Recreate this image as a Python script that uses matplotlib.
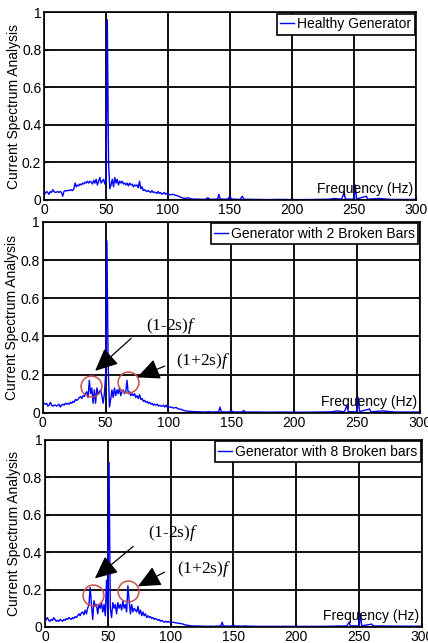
# Current spectrum of healthy vs broken-bar generator
import numpy as np
import matplotlib.pyplot as plt

plt.rcParams['font.family'] = ['Liberation Sans', 'DejaVu Sans']
plt.rcParams['mathtext.fontset'] = 'custom'
plt.rcParams['mathtext.rm'] = 'Liberation Serif'
plt.rcParams['mathtext.it'] = 'Liberation Serif:italic'

# low band 0..100 Hz at 1 Hz steps
freq_low = list(range(0, 101))

healthy_low = [0.03, 0.035, 0.045, 0.04, 0.03, 0.045, 0.04, 0.055, 0.045, 0.04,
               0.042, 0.045, 0.04, 0.045, 0.04, 0.02, 0.045, 0.05, 0.048, 0.05,
               0.052, 0.05, 0.055, 0.05, 0.06, 0.09, 0.07, 0.08, 0.075, 0.085,
               0.08, 0.09, 0.085, 0.095, 0.09, 0.1, 0.09, 0.1, 0.095, 0.085,
               0.105, 0.09, 0.11, 0.08, 0.1, 0.12, 0.09, 0.1, 0.11, 0.085,
               0.1, 0.96, 0.2, 0.06, 0.08, 0.11, 0.07, 0.12, 0.09, 0.11,
               0.08, 0.1, 0.09, 0.1, 0.085, 0.09, 0.08, 0.09, 0.075, 0.09,
               0.08, 0.085, 0.07, 0.08, 0.075, 0.08, 0.065, 0.1, 0.06, 0.07,
               0.05, 0.055, 0.05, 0.045, 0.05, 0.045, 0.04, 0.05, 0.04, 0.042,
               0.04, 0.035, 0.045, 0.035, 0.04, 0.03, 0.035, 0.04, 0.03, 0.035,
               0.03]

bars2_low = [0.04, 0.05, 0.045, 0.05, 0.035, 0.04, 0.055, 0.04, 0.035, 0.04,
             0.04, 0.035, 0.04, 0.045, 0.03, 0.04, 0.045, 0.04, 0.05, 0.045,
             0.05, 0.045, 0.055, 0.05, 0.06, 0.055, 0.07, 0.065, 0.07, 0.08,
             0.085, 0.075, 0.09, 0.085, 0.1, 0.11, 0.08, 0.17, 0.1, 0.13,
             0.05, 0.12, 0.05, 0.13, 0.1, 0.11, 0.12, 0.09, 0.05, 0.1,
             0.2, 0.9, 0.25, 0.03, 0.07, 0.12, 0.08, 0.13, 0.09, 0.12,
             0.1, 0.13, 0.09, 0.11, 0.12, 0.1, 0.11, 0.17, 0.1, 0.11,
             0.09, 0.1, 0.09, 0.1, 0.08, 0.09, 0.075, 0.095, 0.07, 0.075,
             0.06, 0.065, 0.055, 0.06, 0.05, 0.055, 0.045, 0.05, 0.04, 0.045,
             0.04, 0.045, 0.035, 0.04, 0.035, 0.035, 0.04, 0.03, 0.04, 0.03,
             0.03]

bars8_low = [0.03, 0.04, 0.05, 0.035, 0.03, 0.04, 0.035, 0.05, 0.04, 0.03,
             0.035, 0.03, 0.04, 0.035, 0.03, 0.04, 0.035, 0.045, 0.04, 0.05,
             0.045, 0.04, 0.05, 0.045, 0.055, 0.05, 0.06, 0.07, 0.06, 0.075,
             0.08, 0.065, 0.09, 0.07, 0.1, 0.12, 0.21, 0.12, 0.04, 0.14,
             0.11, 0.12, 0.07, 0.12, 0.1, 0.13, 0.08, 0.12, 0.06, 0.25,
             0.05, 0.88, 0.1, 0.05, 0.13, 0.1, 0.12, 0.07, 0.13, 0.1,
             0.12, 0.09, 0.14, 0.1, 0.12, 0.08, 0.22, 0.14, 0.07, 0.12,
             0.08, 0.1, 0.09, 0.08, 0.11, 0.07, 0.09, 0.06, 0.08, 0.06,
             0.07, 0.05, 0.06, 0.05, 0.055, 0.045, 0.05, 0.04, 0.045, 0.04,
             0.035, 0.04, 0.03, 0.035, 0.03, 0.025, 0.03, 0.025, 0.03, 0.025,
             0.025]

# high band 100..300 Hz, sparse
freq_high = [102, 104, 106, 108, 110, 112, 114, 116, 118, 120, 125, 130, 132, 134,
             140, 141, 142, 148, 150, 151, 158, 160, 161, 170, 180, 190, 200,
             210, 220, 230, 234, 240, 242, 243, 250, 251, 252, 260, 261, 270,
             280, 290, 300]

healthy_high = [0.028, 0.03, 0.025, 0.022, 0.015, 0.01, 0.008, 0.012, 0.006, 0.005,
                0.004, 0.003, 0.012, 0.003, 0.005, 0.03, 0.005, 0.004, 0.02, 0.005,
                0.003, 0.02, 0.004, 0.003, 0.002, 0.003, 0.002, 0.002, 0.003, 0.004,
                0.008, 0.004, 0.04, 0.005, 0.004, 0.08, 0.005, 0.02, 0.004, 0.008,
                0.003, 0.003, 0.003]

bars2_high = [0.03, 0.025, 0.028, 0.02, 0.018, 0.012, 0.01, 0.008, 0.007, 0.006,
              0.005, 0.004, 0.006, 0.004, 0.005, 0.03, 0.005, 0.004, 0.012, 0.005,
              0.004, 0.012, 0.004, 0.004, 0.003, 0.004, 0.003, 0.003, 0.004, 0.005,
              0.01, 0.005, 0.04, 0.006, 0.005, 0.08, 0.006, 0.02, 0.005, 0.01,
              0.004, 0.004, 0.004]

bars8_high = [0.025, 0.022, 0.02, 0.018, 0.015, 0.01, 0.008, 0.006, 0.005, 0.005,
              0.004, 0.003, 0.004, 0.003, 0.006, 0.025, 0.005, 0.004, 0.01, 0.005,
              0.004, 0.005, 0.004, 0.003, 0.003, 0.003, 0.003, 0.003, 0.003, 0.004,
              0.005, 0.005, 0.025, 0.006, 0.005, 0.07, 0.006, 0.015, 0.005, 0.005,
              0.004, 0.004, 0.004]

labels = ['Healthy Generator', 'Generator with 2 Broken Bars', 'Generator with 8 Broken bars']
x_ticks = [0, 50, 100, 150, 200, 250, 300]
y_ticks = [0, 0.2, 0.4, 0.6, 0.8, 1]
y_tick_labels = ['0', '0.2', '0.4', '0.6', '0.8', '1']

fig = plt.figure(figsize=(4.28, 6.43), dpi=100)
rects = [[0.103, 0.689, 0.869, 0.292],
         [0.100, 0.358, 0.881, 0.297],
         [0.105, 0.025, 0.881, 0.291]]
series = [healthy_low + healthy_high, bars2_low + bars2_high, bars8_low + bars8_high]
freq = freq_low + freq_high

# annotation anchors per panel (text pos, arrow start, arrow tip, circle centre)
notes = [None,
         dict(t1=(82, 0.455), a1=((72, 0.40), (40, 0.21)), c1=(38, 0.14),
              t2=(106, 0.27), a2=((99, 0.25), (73, 0.18)), c2=(67.5, 0.16)),
         dict(t1=(82, 0.50), a1=((72, 0.44), (38, 0.25)), c1=(38, 0.17),
              t2=(105, 0.31), a2=((97, 0.30), (72, 0.21)), c2=(66, 0.19))]

for i in range(3):
    ax = fig.add_axes(rects[i])
    ax.plot(freq, series[i], color='#0000ff', lw=1.0, label=labels[i])
    ax.set_xlim(0, 300)
    ax.set_ylim(0, 1)
    ax.set_xticks(x_ticks)
    ax.set_yticks(y_ticks)
    ax.set_yticklabels(y_tick_labels)
    ax.tick_params(direction='in', length=3, labelsize=10, pad=2)
    ax.grid(True, color='#111111', lw=1.4)
    for s in ax.spines.values():
        s.set_linewidth(1.2)
    ax.set_ylabel('Current Spectrum Analysis', fontsize=10, labelpad=1)
    ax.text(298, 0.02, 'Frequency (Hz)', ha='right', va='bottom', fontsize=10)
    leg = ax.legend(loc='upper right', fontsize=10, borderaxespad=0.1,
                    handlelength=1.0, handletextpad=0.2, borderpad=0.25,
                    fancybox=False, framealpha=1)
    leg.get_frame().set_edgecolor('black')
    leg.get_frame().set_linewidth(1.2)

    n = notes[i]
    if n is None:
        continue
    ax.text(n['t1'][0], n['t1'][1], r'(1-2s)$\mathit{f}$', fontsize=12.5,
            family='Liberation Serif', va='center', ha='left')
    ax.text(n['t2'][0], n['t2'][1], r'(1+2s)$\mathit{f}$', fontsize=12.5,
            family='Liberation Serif', va='center', ha='left')
    for a in (n['a1'], n['a2']):
        ax.annotate('', xy=a[1], xytext=a[0],
                    arrowprops=dict(arrowstyle='-|>,head_length=1.4,head_width=0.65',
                                    mutation_scale=10, color='black', lw=0.9))
    for c in (n['c1'], n['c2']):
        ax.plot(c[0], c[1], 'o', mfc='none', mec='#c8504a', mew=1.1, ms=15)

fig.savefig('out.png', dpi=100)
